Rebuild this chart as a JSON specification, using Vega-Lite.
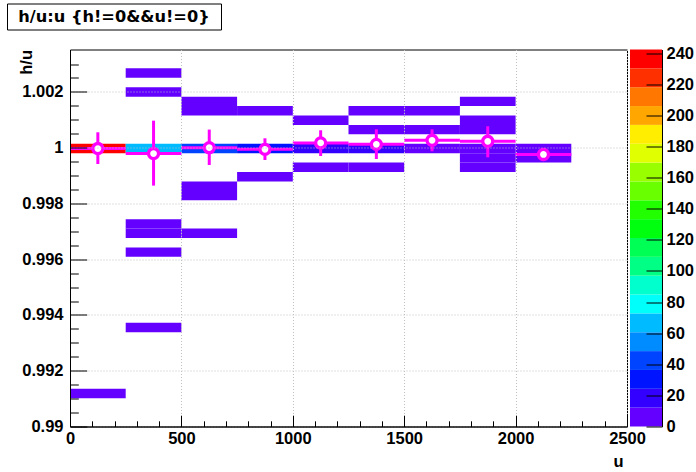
{
  "$schema": "https://vega.github.io/schema/vega-lite/v6.json",
  "background": "white",
  "padding": {"left": 6, "top": 2.5, "right": 0, "bottom": 0},
  "config": {
    "view": {"stroke": null},
    "axis": {
      "labelFont": "Liberation Sans", "titleFont": "Liberation Sans",
      "labelFontWeight": "bold", "titleFontWeight": "bold",
      "labelColor": "black", "titleColor": "black",
      "tickColor": "black", "domainColor": "black",
      "labelFontSize": 16.5, "titleFontSize": 16.5
    }
  },
  "datasets": {
    "hist": [
      {"x1": 0, "x2": 250, "y1": 0.99980345, "y2": 1.0001415, "z": 242},
      {"x1": 0, "x2": 250, "y1": 0.99101415, "y2": 0.9913522, "z": 3},
      {"x1": 250, "x2": 500, "y1": 1.00250785, "y2": 1.0028459, "z": 3},
      {"x1": 250, "x2": 500, "y1": 1.00183175, "y2": 1.0021698, "z": 4},
      {"x1": 250, "x2": 500, "y1": 0.99980345, "y2": 1.0001415, "z": 66},
      {"x1": 250, "x2": 500, "y1": 0.99709905, "y2": 0.9974371, "z": 4},
      {"x1": 250, "x2": 500, "y1": 0.996761, "y2": 0.99709905, "z": 3},
      {"x1": 250, "x2": 500, "y1": 0.9960849, "y2": 0.99642295, "z": 3},
      {"x1": 250, "x2": 500, "y1": 0.9933805, "y2": 0.9937186, "z": 3},
      {"x1": 500, "x2": 750, "y1": 1.0014937, "y2": 1.00183175, "z": 3},
      {"x1": 500, "x2": 750, "y1": 1.00115565, "y2": 1.0014937, "z": 3},
      {"x1": 500, "x2": 750, "y1": 0.99980345, "y2": 1.0001415, "z": 42},
      {"x1": 500, "x2": 750, "y1": 0.99845125, "y2": 0.9987893, "z": 3},
      {"x1": 500, "x2": 750, "y1": 0.9981132, "y2": 0.99845125, "z": 3},
      {"x1": 500, "x2": 750, "y1": 0.996761, "y2": 0.99709905, "z": 3},
      {"x1": 750, "x2": 1000, "y1": 1.00115565, "y2": 1.0014937, "z": 4},
      {"x1": 750, "x2": 1000, "y1": 0.99980345, "y2": 1.0001415, "z": 30},
      {"x1": 750, "x2": 1000, "y1": 0.9987893, "y2": 0.99912735, "z": 4},
      {"x1": 1000, "x2": 1250, "y1": 1.0008176, "y2": 1.00115565, "z": 4},
      {"x1": 1000, "x2": 1250, "y1": 0.99980345, "y2": 1.0001415, "z": 18},
      {"x1": 1000, "x2": 1250, "y1": 0.99912735, "y2": 0.9994654, "z": 4},
      {"x1": 1250, "x2": 1500, "y1": 1.00115565, "y2": 1.0014937, "z": 4},
      {"x1": 1250, "x2": 1500, "y1": 1.00047955, "y2": 1.0008176, "z": 4},
      {"x1": 1250, "x2": 1500, "y1": 0.99980345, "y2": 1.0001415, "z": 17},
      {"x1": 1250, "x2": 1500, "y1": 0.99912735, "y2": 0.9994654, "z": 4},
      {"x1": 1500, "x2": 1750, "y1": 1.00115565, "y2": 1.0014937, "z": 4},
      {"x1": 1500, "x2": 1750, "y1": 1.00047955, "y2": 1.0008176, "z": 5},
      {"x1": 1500, "x2": 1750, "y1": 0.99980345, "y2": 1.0001415, "z": 8},
      {"x1": 1750, "x2": 2000, "y1": 1.0014937, "y2": 1.00183175, "z": 3},
      {"x1": 1750, "x2": 2000, "y1": 1.0008176, "y2": 1.00115565, "z": 3},
      {"x1": 1750, "x2": 2000, "y1": 1.00047955, "y2": 1.0008176, "z": 4},
      {"x1": 1750, "x2": 2000, "y1": 0.99980345, "y2": 1.0001415, "z": 5},
      {"x1": 1750, "x2": 2000, "y1": 0.9994654, "y2": 0.99980345, "z": 5},
      {"x1": 1750, "x2": 2000, "y1": 0.99912735, "y2": 0.9994654, "z": 4},
      {"x1": 2000, "x2": 2250, "y1": 0.99980345, "y2": 1.0001415, "z": 4},
      {"x1": 2000, "x2": 2250, "y1": 0.9994654, "y2": 0.99980345, "z": 3}
    ],
    "prof": [
      {"u": 125, "ulo": 0, "uhi": 250, "mean": 0.99997, "ymin": 0.999415, "ymax": 1.000553},
      {"u": 375, "ulo": 250, "uhi": 500, "mean": 0.99979, "ymin": 0.99864, "ymax": 1.00097},
      {"u": 625, "ulo": 500, "uhi": 750, "mean": 1.0, "ymin": 0.999379, "ymax": 1.00065},
      {"u": 875, "ulo": 750, "uhi": 1000, "mean": 0.99994, "ymin": 0.999559, "ymax": 1.000337},
      {"u": 1125, "ulo": 1000, "uhi": 1250, "mean": 1.00017, "ymin": 0.999702, "ymax": 1.000625},
      {"u": 1375, "ulo": 1250, "uhi": 1500, "mean": 1.00012, "ymin": 0.999594, "ymax": 1.00066},
      {"u": 1625, "ulo": 1500, "uhi": 1750, "mean": 1.000266, "ymin": 0.999871, "ymax": 1.00066},
      {"u": 1875, "ulo": 1750, "uhi": 2000, "mean": 1.00023, "ymin": 0.999655, "ymax": 1.000768},
      {"u": 2125, "ulo": 2000, "uhi": 2250, "mean": 0.999756, "ymin": 0.99966, "ymax": 0.99986}
    ],
    "pal": [
      {"lo": 0, "hi": 12.12}, {"lo": 12.12, "hi": 24.24}, {"lo": 24.24, "hi": 36.36},
      {"lo": 36.36, "hi": 48.48}, {"lo": 48.48, "hi": 60.6}, {"lo": 60.6, "hi": 72.72},
      {"lo": 72.72, "hi": 84.84}, {"lo": 84.84, "hi": 96.96}, {"lo": 96.96, "hi": 109.08},
      {"lo": 109.08, "hi": 121.2}, {"lo": 121.2, "hi": 133.32}, {"lo": 133.32, "hi": 145.44},
      {"lo": 145.44, "hi": 157.56}, {"lo": 157.56, "hi": 169.68}, {"lo": 169.68, "hi": 181.8},
      {"lo": 181.8, "hi": 193.92}, {"lo": 193.92, "hi": 206.04}, {"lo": 206.04, "hi": 218.16},
      {"lo": 218.16, "hi": 230.28}, {"lo": 230.28, "hi": 242.4}
    ]
  },
  "bounds": "full",
  "spacing": 14,
  "vconcat": [
    {
      "width": 214, "height": 26,
      "view": {"stroke": "black", "strokeWidth": 1, "fill": "white"},
      "data": {"values": [{"t": "h/u:u {h!=0&&u!=0}"}]},
      "mark": {"type": "text", "font": "DejaVu Sans", "fontWeight": "bold", "fontSize": 16.2, "align": "center", "baseline": "middle", "color": "black"},
      "encoding": {"text": {"field": "t"}}
    },
    {
      "bounds": "full",
      "spacing": 0,
      "hconcat": [
        {
          "width": 1, "height": 1,
          "data": {"values": []},
          "mark": {"type": "point"},
          "encoding": {}
        },
        {
          "bounds": "flush",
          "spacing": 3,
          "hconcat": [
            {
              "width": 557, "height": 377,
              "view": {"stroke": "black", "strokeWidth": 1},
              "resolve": {"axis": {"x": "independent", "y": "independent"}},
              "layer": [
                {
                  "data": {"name": "hist"},
                  "mark": {"type": "rect"},
                  "encoding": {
                    "x": {"field": "x1", "type": "quantitative",
                      "scale": {"domain": [0, 2500], "nice": false, "zero": false},
                      "axis": {"values": [0, 500, 1000, 1500, 2000, 2500], "format": "d", "title": "u",
                        "tickSize": -11.3, "labelPadding": 15, "labelFlush": false, "labelOverlap": false,
                        "grid": true, "gridColor": "#c0c0c0", "gridDash": [1, 2],
                        "gridOpacity": {"condition": {"test": "datum.value === 0", "value": 0}, "value": 1},
                        "titleX": 553, "titleY": 40, "titleAlign": "right", "titleBaseline": "alphabetic",
                        "zindex": 1}},
                    "x2": {"field": "x2"},
                    "y": {"field": "y1", "type": "quantitative",
                      "scale": {"domain": [0.99, 1.003522], "nice": false, "zero": false},
                      "axis": {"values": [0.99, 0.992, 0.994, 0.996, 0.998, 1.0, 1.002], "format": "~g", "title": "h/u",
                        "tickSize": -16.7, "labelPadding": 23.7, "labelFlush": false, "labelOverlap": false,
                        "grid": true, "gridColor": "#c0c0c0", "gridDash": [1, 2],
                        "titleX": -39, "titleY": 0, "titleAngle": -90, "titleAlign": "right", "titleBaseline": "alphabetic",
                        "zindex": 1}},
                    "y2": {"field": "y2"},
                    "color": {"field": "z", "type": "quantitative",
                      "scale": {"type": "threshold",
                        "domain": [12.12, 24.24, 36.36, 48.48, 60.6, 72.72, 84.84, 96.96, 109.08, 121.2, 133.32, 145.44, 157.56, 169.68, 181.8, 193.92, 206.04, 218.16, 230.28],
                        "range": ["#6300ff", "#3300ff", "#0014ff", "#0044ff", "#008bff", "#00bbff", "#00fffb", "#00ffcc", "#00ff85", "#00ff55", "#00ff0e", "#22ff00", "#69ff00", "#99ff00", "#e0ff00", "#ffee00", "#ffa700", "#ff7700", "#ff3000", "#ff0000"]},
                      "legend": null}
                  }
                },
                {
                  "data": {"name": "prof"},
                  "mark": {"type": "rule", "color": "#ff00ff", "strokeWidth": 3},
                  "encoding": {
                    "x": {"field": "ulo", "type": "quantitative", "axis": null},
                    "x2": {"field": "uhi"},
                    "y": {"field": "mean", "type": "quantitative", "axis": null}
                  }
                },
                {
                  "data": {"name": "prof"},
                  "mark": {"type": "rule", "color": "#ff00ff", "strokeWidth": 3},
                  "encoding": {
                    "x": {"field": "u", "type": "quantitative", "axis": null},
                    "y": {"field": "ymin", "type": "quantitative", "axis": null},
                    "y2": {"field": "ymax"}
                  }
                },
                {
                  "data": {"name": "prof"},
                  "mark": {"type": "point", "shape": "circle", "size": 101, "filled": true, "fill": "white", "stroke": "#ff00ff", "strokeWidth": 3.3, "opacity": 1},
                  "encoding": {
                    "x": {"field": "u", "type": "quantitative",
                      "axis": {"orient": "bottom", "values": [100, 200, 300, 400, 600, 700, 800, 900, 1100, 1200, 1300, 1400, 1600, 1700, 1800, 1900, 2100, 2200, 2300, 2400],
                        "tickSize": -5.7, "labels": false, "domain": false, "grid": false, "title": null, "zindex": 1}},
                    "y": {"field": "mean", "type": "quantitative",
                      "axis": {"orient": "left", "values": [0.9905, 0.991, 0.9915, 0.9925, 0.993, 0.9935, 0.9945, 0.995, 0.9955, 0.9965, 0.997, 0.9975, 0.9985, 0.999, 0.9995, 1.0005, 1.001, 1.0015, 1.0025, 1.003],
                        "tickSize": -8.3, "labels": false, "domain": false, "grid": false,
                        "title": ".", "titleOpacity": 0, "titleFontSize": 2, "titleX": -61.5, "titleY": 0, "titleAngle": 0, "titleAlign": "left", "titleBaseline": "middle", "zindex": 1}}
                  }
                }
              ]
            },
            {
              "width": 32, "height": 377,
              "data": {"name": "pal"},
              "mark": {"type": "rect"},
              "encoding": {
                "y": {"field": "lo", "type": "quantitative",
                  "scale": {"domain": [0, 242.4], "nice": false, "zero": false},
                  "axis": {"orient": "right", "values": [0, 20, 40, 60, 80, 100, 120, 140, 160, 180, 200, 220, 240], "format": "d",
                    "tickSize": -16, "labelPadding": 20, "labelFlush": false, "labelOverlap": false, "grid": false, "title": null, "zindex": 1}},
                "y2": {"field": "hi"},
                "color": {"field": "lo", "type": "quantitative",
                  "scale": {"type": "threshold",
                    "domain": [12.12, 24.24, 36.36, 48.48, 60.6, 72.72, 84.84, 96.96, 109.08, 121.2, 133.32, 145.44, 157.56, 169.68, 181.8, 193.92, 206.04, 218.16, 230.28],
                    "range": ["#6300ff", "#3300ff", "#0014ff", "#0044ff", "#008bff", "#00bbff", "#00fffb", "#00ffcc", "#00ff85", "#00ff55", "#00ff0e", "#22ff00", "#69ff00", "#99ff00", "#e0ff00", "#ffee00", "#ffa700", "#ff7700", "#ff3000", "#ff0000"]},
                  "legend": null}
              }
            }
          ]
        }
      ]
    }
  ]
}
